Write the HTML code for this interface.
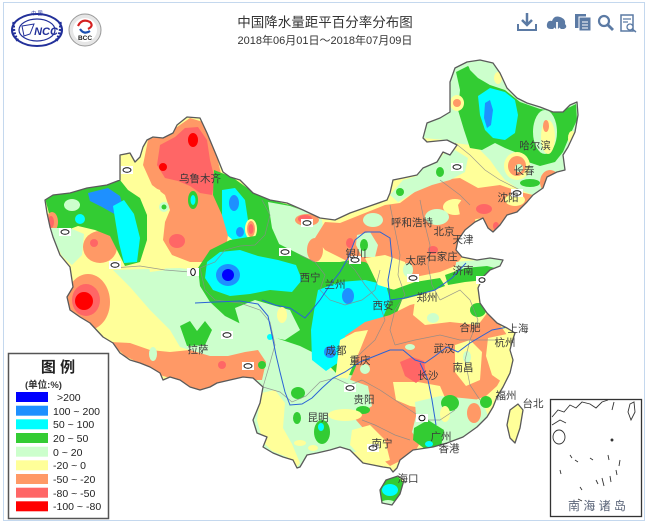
<!DOCTYPE html>
<html><head><meta charset="utf-8">
<style>
html,body{margin:0;padding:0;background:#fff;}
body{width:650px;height:523px;overflow:hidden;}
svg{display:block;}
text{font-family:"Liberation Sans","Noto Sans CJK SC",sans-serif;}
</style></head>
<body>
<svg width="650" height="523" viewBox="0 0 650 523" xmlns="http://www.w3.org/2000/svg">
<defs>
<clipPath id="cn">
<path id="cnp" d="M45,200 L53,195 L70,193 L87,188 L107,185 L120,180 L120,155 L130,153 L135,162 L140,157 L143,147 L147,140 L153,137 L163,138 L173,133 L177,125 L187,117 L200,118 L207,133 L217,157 L223,172 L230,177 L240,180 L253,193 L270,200 L287,203 L303,210 L320,218 L335,220 L350,213 L367,207 L387,200 L390,193 L393,180 L403,178 L417,175 L423,168 L437,162 L443,152 L450,155 L457,145 L447,140 L427,142 L423,138 L427,123 L440,118 L450,112 L450,82 L455,68 L467,62 L480,60 L493,63 L500,73 L507,88 L517,98 L527,103 L540,107 L553,112 L563,112 L570,105 L577,102 L578,115 L575,132 L568,147 L563,155 L565,170 L557,172 L547,177 L543,188 L533,195 L527,202 L517,212 L507,215 L500,225 L493,232 L488,228 L483,218 L475,222 L465,230 L458,240 L456,250 L462,257 L477,260 L490,258 L503,260 L500,266 L490,270 L483,277 L478,288 L480,303 L487,313 L497,323 L507,328 L515,333 L512,342 L510,350 L513,360 L510,373 L503,387 L497,397 L493,407 L487,417 L477,427 L463,437 L447,443 L433,447 L413,450 L400,460 L397,468 L393,472 L390,468 L383,467 L373,465 L363,463 L357,457 L350,450 L340,447 L330,450 L317,453 L307,455 L300,467 L297,468 L293,460 L283,457 L273,453 L263,447 L267,437 L257,433 L253,420 L260,403 L263,387 L253,378 L243,377 L230,380 L217,383 L210,387 L200,390 L190,387 L180,380 L170,377 L163,380 L160,373 L150,367 L140,363 L130,360 L120,353 L113,343 L103,337 L90,323 L80,317 L70,310 L67,297 L73,287 L70,267 L60,255 L53,237 L50,227 L47,213 Z M380,490 L386,480 L398,476 L404,480 L400,494 L392,505 L382,503 Z M510,410 L518,404 L523,410 L520,428 L515,443 L510,438 L507,425 Z"/>
</clipPath>
</defs>

<!-- frame -->
<rect x="3.5" y="2.5" width="641" height="518" fill="none" stroke="#c4d8ee" stroke-width="1"/>

<!-- logos -->
<g>
<ellipse cx="37" cy="30" rx="25" ry="16" fill="#fff" stroke="#22309a" stroke-width="2"/>
<ellipse cx="37" cy="30" rx="18" ry="11" fill="none" stroke="#22309a" stroke-width="1.2"/>
<path d="M14,22 Q12,32 18,41 M60,22 Q62,32 56,41" fill="none" stroke="#22309a" stroke-width="3" stroke-dasharray="2 1.5"/>
<path d="M22,26 L34,24 L30,34 L24,36 Z" fill="none" stroke="#22309a" stroke-width="1"/>
<text x="46" y="35" font-size="11" font-weight="bold" font-style="italic" fill="#22309a" text-anchor="middle">NCC</text>
<text x="37" y="15" font-size="5" fill="#22309a" text-anchor="middle">中   国</text>
<circle cx="85" cy="30" r="16" fill="#e6e6e6" stroke="#999" stroke-width="1"/>
<circle cx="85" cy="30" r="12" fill="#fff"/>
<path d="M78,26 Q82,18 90,22 Q94,26 88,29" fill="none" stroke="#d42020" stroke-width="2.2"/>
<path d="M80,29 Q84,35 90,31" fill="none" stroke="#1a4fb0" stroke-width="2.2"/>
<text x="85" y="40" font-size="6.5" font-weight="bold" fill="#222" text-anchor="middle" font-family="Liberation Serif,serif">BCC</text>
</g>

<!-- title -->
<text x="325" y="27" font-size="13.5" fill="#333" text-anchor="middle">中国降水量距平百分率分布图</text>
<text x="325" y="44" font-size="11" fill="#333" text-anchor="middle">2018年06月01日～2018年07月09日</text>

<!-- icons -->
<g fill="#5b7aa4" stroke="#5b7aa4">
<path d="M527,13 V25 M522,20 L527,25 L532,20" fill="none" stroke-width="2.5"/>
<path d="M518,24 V30 H536 V24" fill="none" stroke-width="2"/>
<path d="M551,29 Q546,29 547,24 Q548,20 552,21 Q554,15 560,17 Q566,19 565,24 Q568,27 564,29 Z" stroke="none"/>
<path d="M557,22 V31 M554,28 L557,32 L560,28" fill="none" stroke="#fff" stroke-width="1.8"/>
<rect x="575" y="14" width="11" height="14" stroke="none"/>
<rect x="579" y="17" width="12" height="14" stroke="#fff" stroke-width="1"/>
<path d="M582,22 H588 M582,25 H588 M582,28 H588" stroke="#fff" stroke-width="1"/>
<circle cx="604" cy="21" r="5" fill="none" stroke-width="2.2"/>
<path d="M608,25 L613,30" stroke-width="2.8"/>
<rect x="621" y="15" width="12" height="16" fill="none" stroke-width="1.5"/>
<path d="M623,19 H631 M623,22 H628" stroke-width="1.2"/>
<circle cx="630" cy="27" r="3" fill="#fff" stroke-width="1.3"/>
<path d="M632,29 L636,32" stroke-width="1.5"/>
</g>

<!-- MAP -->
<g clip-path="url(#cn)">
<rect x="0" y="0" width="650" height="523" fill="#ffff99"/>

<!-- Tibet/SW light green -->
<path fill="#ccffcc" d="M113,270 L180,268 L230,275 L270,285 L300,300 L320,330 L330,370 L360,378 L372,405 L365,452 L330,452 L300,470 L262,448 L252,420 L258,395 L240,380 L205,355 L180,347 L170,330 L150,310 L130,287 Z"/>
<!-- Tibet south orange band -->
<path fill="#ff9966" d="M110,342 L130,343 L150,350 L170,352 L190,350 L210,356 L228,356 L245,352 L258,350 L266,362 L262,380 L243,380 L230,383 L210,388 L200,391 L185,384 L170,378 L160,375 L145,366 L125,356 Z"/>
<ellipse cx="153" cy="354" rx="4" ry="7" fill="#ccffcc"/>
<ellipse cx="222" cy="365" rx="4" ry="4" fill="#ff6666"/>
<path fill="#33cc33" d="M180,326 L190,321 L197,331 L205,321 L212,330 L205,345 L187,346 Z"/>
<!-- Ngari -->
<ellipse cx="88" cy="302" rx="22" ry="28" fill="#ff9966"/>
<ellipse cx="86" cy="300" rx="14" ry="16" fill="#ff6666"/>
<ellipse cx="84" cy="301" rx="9" ry="9" fill="#ff0000"/>

<!-- North Xinjiang orange -->
<path fill="#ff9966" d="M148,140 L165,133 L177,127 L190,118 L203,122 L210,140 L217,157 L222,178 L220,198 L225,215 L228,235 L225,255 L210,262 L190,262 L172,255 L163,240 L165,222 L170,210 L165,195 L152,185 L143,165 Z"/>
<path fill="#ffff99" d="M147,185 L160,190 L165,205 L162,225 L160,250 L165,270 L150,272 L145,250 L145,215 L140,195 Z"/>
<path fill="#ff6666" d="M160,145 L175,137 L185,128 L198,127 L207,140 L210,160 L215,180 L212,195 L200,193 L190,186 L178,181 L165,178 L157,165 Z"/>
<ellipse cx="193" cy="140" rx="5" ry="7" fill="#ff0000"/>
<ellipse cx="163" cy="167" rx="4" ry="4" fill="#ff0000"/>
<ellipse cx="177" cy="241" rx="8" ry="7" fill="#ff6666"/>
<ellipse cx="193" cy="200" rx="5" ry="9" fill="#33cc33"/>
<ellipse cx="193" cy="200" rx="2.5" ry="5" fill="#00ffff"/>
<ellipse cx="164" cy="207" rx="5" ry="5" fill="#ccffcc"/>
<ellipse cx="164" cy="207" rx="2.5" ry="2.5" fill="#33cc33"/>
<ellipse cx="100" cy="247" rx="17" ry="16" fill="#ff9966"/>
<ellipse cx="94" cy="243" rx="4" ry="4" fill="#ff6666"/>

<!-- Ili green -->
<path fill="#33cc33" d="M45,198 L53,195 L70,193 L87,188 L107,185 L120,180 L128,190 L140,198 L147,215 L147,240 L140,262 L125,266 L117,250 L110,236 L95,230 L78,226 L62,232 L52,225 Z"/>
<ellipse cx="72" cy="205" rx="8" ry="6" fill="#ccffcc"/>
<path fill="#1e90ff" d="M88,193 L108,188 L120,196 L124,210 L118,216 L102,207 L90,201 Z"/>
<path fill="#00ffff" d="M113,206 L124,200 L134,214 L140,238 L137,262 L124,263 L119,243 L116,225 Z"/>
<ellipse cx="80" cy="219" rx="5" ry="5" fill="#00ffff"/>
<ellipse cx="52" cy="222" rx="6" ry="10" fill="#ff9966"/>
<ellipse cx="51" cy="222" rx="3" ry="6" fill="#ff6666"/>
<path fill="#ccffcc" d="M48,228 L70,228 L84,234 L82,255 L72,265 L62,256 L54,240 Z"/>

<!-- Tianshan / Hexi green -->
<path fill="#33cc33" d="M214,170 L232,177 L250,190 L270,200 L290,205 L305,212 L300,225 L288,238 L278,248 L262,244 L248,240 L234,228 L222,215 L213,195 Z"/>
<path fill="#00ffff" d="M222,190 L235,188 L245,200 L248,220 L252,240 L240,246 L228,236 L222,215 Z"/>
<ellipse cx="234" cy="203" rx="5" ry="8" fill="#1e90ff"/>
<ellipse cx="240" cy="232" rx="4" ry="5" fill="#1e90ff"/>
<ellipse cx="251" cy="229" rx="6" ry="10" fill="#ffff99"/>
<ellipse cx="251" cy="229" rx="4" ry="8" fill="#ff9966"/>
<ellipse cx="251" cy="229" rx="2.5" ry="5" fill="#ff6666"/>
<path fill="#ccffcc" d="M268,202 L290,206 L310,213 L322,220 L325,245 L312,258 L292,256 L280,246 L272,228 Z"/>
<ellipse cx="307" cy="220" rx="12" ry="6" fill="#ff9966"/>
<ellipse cx="305" cy="219" rx="7" ry="4" fill="#ff6666"/>

<!-- Qinghai/Gansu/Sichuan green -->
<path fill="#33cc33" d="M198,268 L210,250 L230,240 L255,236 L275,242 L295,252 L315,262 L340,262 L362,258 L372,268 L378,285 L395,290 L402,300 L395,318 L385,335 L372,358 L356,376 L336,373 L320,356 L300,346 L270,336 L245,326 L225,316 L210,302 L200,286 Z"/>
<path fill="#ccffcc" d="M235,308 L255,300 L272,305 L290,310 L300,330 L285,340 L260,335 L240,325 Z"/>
<ellipse cx="282" cy="315" rx="5" ry="8" fill="#ffff99"/>
<path fill="#00ffff" d="M207,262 L220,252 L240,250 L258,256 L278,260 L296,265 L302,280 L292,292 L270,290 L250,294 L230,296 L213,290 L205,278 Z"/>
<ellipse cx="228" cy="275" rx="12" ry="11" fill="#1e90ff"/>
<ellipse cx="228" cy="275" rx="6" ry="6" fill="#0000ff"/>
<path fill="#00ffff" d="M318,290 L340,282 L365,280 L386,285 L390,300 L382,320 L362,330 L347,340 L342,360 L326,371 L312,360 L311,330 L315,305 Z"/>
<ellipse cx="348" cy="296" rx="6" ry="8" fill="#1e90ff"/>
<ellipse cx="330" cy="352" rx="6" ry="6" fill="#1e90ff"/>
<ellipse cx="270" cy="337" rx="3" ry="3" fill="#00ffff"/>

<!-- North China orange -->
<path fill="#ff9966" d="M325,222 L340,223 L360,215 L385,205 L400,203 L420,188 L440,180 L460,178 L478,188 L475,222 L465,230 L458,240 L456,250 L462,257 L455,266 L440,272 L420,276 L400,278 L380,270 L365,262 L345,260 L325,250 L315,238 Z"/>
<ellipse cx="315" cy="250" rx="8" ry="12" fill="#ff9966"/>
<path fill="#ffff99" d="M365,258 L385,255 L405,262 L410,285 L395,290 L378,285 Z"/>
<ellipse cx="455" cy="207" rx="12" ry="8" fill="#ffff99"/>
<ellipse cx="373" cy="220" rx="10" ry="7" fill="#ccffcc"/>
<path fill="#ccffcc" d="M357,235 L370,232 L378,245 L375,257 L362,257 L356,245 Z"/>
<ellipse cx="364" cy="245" rx="4" ry="6" fill="#33cc33"/>
<ellipse cx="437" cy="217" rx="12" ry="8" fill="#ccffcc"/>
<ellipse cx="408" cy="270" rx="5" ry="7" fill="#ccffcc"/>
<ellipse cx="433" cy="250" rx="5" ry="4" fill="#ff6666"/>
<ellipse cx="350" cy="243" rx="4" ry="5" fill="#ff6666"/>
<!-- Inner Mongolia light green strip -->
<path fill="#ccffcc" d="M390,195 L403,180 L417,176 L423,168 L437,162 L445,152 L455,150 L468,158 L465,172 L450,180 L432,185 L415,192 L398,202 Z"/>
<ellipse cx="440" cy="172" rx="4" ry="5" fill="#33cc33"/>
<ellipse cx="400" cy="192" rx="4" ry="4" fill="#33cc33"/>

<!-- NE -->
<path fill="#ccffcc" d="M423,138 L427,123 L440,118 L450,112 L450,82 L455,68 L467,62 L480,60 L493,63 L500,73 L507,88 L517,98 L527,103 L540,107 L553,112 L563,112 L570,105 L577,102 L578,115 L575,132 L568,147 L563,155 L565,170 L557,172 L547,177 L543,188 L533,195 L520,190 L505,180 L497,170 L490,160 L480,150 L470,145 L455,143 L445,140 Z"/>
<path fill="#33cc33" d="M456,72 L468,66 L478,75 L490,85 L505,90 L520,102 L540,109 L560,112 L576,104 L577,120 L570,135 L563,152 L555,162 L540,166 L528,162 L515,152 L505,148 L495,143 L482,150 L470,148 L464,130 L458,110 L460,90 Z"/>
<path fill="#ccffcc" d="M467,62 L480,60 L493,63 L500,73 L502,85 L490,85 L478,78 L470,70 Z"/>
<path fill="#00ffff" d="M478,96 L490,88 L505,92 L515,100 L518,115 L515,133 L505,140 L493,138 L485,130 L480,115 Z"/>
<path fill="#1e90ff" d="M485,103 L490,100 L493,110 L491,125 L487,128 L484,118 Z"/>
<ellipse cx="545" cy="132" rx="12" ry="22" fill="#ccffcc"/>
<ellipse cx="548" cy="137" rx="7" ry="17" fill="#ffff99"/>
<ellipse cx="546" cy="126" rx="3" ry="6" fill="#ff9966"/>
<ellipse cx="572" cy="138" rx="4" ry="7" fill="#ffff99"/>
<ellipse cx="457" cy="103" rx="7" ry="8" fill="#ffff99"/>
<ellipse cx="457" cy="103" rx="4" ry="4" fill="#ff9966"/>
<ellipse cx="498" cy="78" rx="4" ry="6" fill="#ffff99"/>
<ellipse cx="517" cy="166" rx="13" ry="14" fill="#ffff99"/>
<ellipse cx="517" cy="166" rx="9" ry="10" fill="#ff9966"/>
<ellipse cx="519" cy="168" rx="4" ry="4" fill="#ccffcc"/>
<ellipse cx="530" cy="183" rx="10" ry="4" fill="#33cc33"/>
<ellipse cx="550" cy="182" rx="10" ry="12" fill="#ff9966"/>
<path fill="#ff9966" d="M478,188 L500,185 L520,192 L533,195 L527,202 L517,212 L507,215 L500,225 L493,232 L488,228 L483,218 L470,220 L460,215 L458,205 L465,195 Z"/>
<ellipse cx="484" cy="209" rx="8" ry="5" fill="#ff6666"/>
<ellipse cx="515" cy="200" rx="10" ry="6" fill="#ffff99"/>
<ellipse cx="496" cy="226" rx="3" ry="4" fill="#ff6666"/>

<!-- Shandong -->
<path fill="#ccffcc" d="M456,262 L477,260 L490,258 L503,260 L500,266 L490,270 L483,277 L470,278 L455,275 Z"/>
<path fill="#33cc33" d="M445,275 L465,268 L487,266 L495,268 L485,280 L465,282 L448,285 Z"/>
<path fill="#33cc33" d="M393,290 L415,282 L440,278 L445,286 L420,295 L400,300 Z"/>

<!-- Central/South orange -->
<path fill="#ff9966" d="M345,336 L365,322 L390,315 L410,305 L430,300 L452,300 L472,304 L490,310 L500,325 L507,335 L510,350 L506,370 L497,386 L486,396 L470,402 L455,410 L440,422 L426,432 L416,450 L402,460 L390,466 L378,455 L370,436 L356,420 L346,402 L350,380 L356,366 Z"/>
<path fill="#ffff99" d="M340,340 L355,332 L368,330 L360,350 L352,368 L345,385 L335,380 Z"/>
<path fill="#ffff99" d="M415,300 L450,298 L478,302 L488,312 L478,325 L450,322 L425,325 L413,315 Z"/>
<ellipse cx="478" cy="310" rx="8" ry="7" fill="#33cc33"/>
<ellipse cx="433" cy="318" rx="6" ry="5" fill="#ccffcc"/>
<path fill="#ffff99" d="M393,382 L418,382 L440,386 L446,400 L432,410 L410,406 L396,400 Z"/>
<path fill="#ffff99" d="M488,338 L507,334 L512,345 L510,366 L502,382 L492,375 L486,356 Z"/>
<path fill="#ffff99" d="M455,345 L470,340 L482,352 L480,380 L466,386 L455,372 Z"/>
<ellipse cx="467" cy="357" rx="4" ry="6" fill="#ccffcc"/>
<path fill="#ff6666" d="M400,362 L412,357 L424,361 L426,375 L416,383 L405,376 Z"/>
<ellipse cx="410" cy="347" rx="5" ry="3" fill="#ccffcc"/>
<ellipse cx="365" cy="369" rx="5" ry="5" fill="#ccffcc"/>
<path fill="#ccffcc" d="M415,402 L440,396 L462,398 L482,400 L488,416 L478,427 L463,437 L447,443 L433,447 L420,446 L412,432 L416,416 Z"/>
<ellipse cx="450" cy="403" rx="9" ry="8" fill="#33cc33"/>
<path fill="#33cc33" d="M414,428 L428,420 L444,430 L441,447 L425,449 L413,440 Z"/>
<ellipse cx="429" cy="444" rx="4" ry="3" fill="#00ffff"/>
<ellipse cx="445" cy="414" rx="5" ry="8" fill="#ffff99"/>
<ellipse cx="474" cy="413" rx="7" ry="10" fill="#ff9966"/>
<ellipse cx="486" cy="402" rx="6" ry="6" fill="#33cc33"/>
<path fill="#ffff99" d="M352,430 L370,425 L385,440 L390,460 L378,464 L360,456 L350,445 Z"/>
<!-- Guizhou / Yunnan -->
<path fill="#ccffcc" d="M318,376 L345,378 L368,386 L372,406 L360,414 L340,410 L325,406 L314,396 Z"/>
<ellipse cx="363" cy="410" rx="7" ry="4" fill="#33cc33"/>
<path fill="#ffff99" d="M261,393 L275,390 L285,403 L283,428 L292,444 L300,463 L296,468 L287,457 L272,451 L263,442 L257,420 Z"/>
<ellipse cx="345" cy="415" rx="17" ry="6" fill="#ffff99"/>
<ellipse cx="322" cy="432" rx="8" ry="12" fill="#33cc33"/>
<ellipse cx="321" cy="427" rx="3" ry="4" fill="#00ffff"/>
<ellipse cx="300" cy="443" rx="6" ry="3" fill="#ffff99"/>
<ellipse cx="313" cy="448" rx="5" ry="3" fill="#ffff99"/>
<ellipse cx="297" cy="418" rx="4" ry="6" fill="#33cc33"/>
<ellipse cx="298" cy="393" rx="7" ry="6" fill="#33cc33"/>
<ellipse cx="262" cy="365" rx="4" ry="4" fill="#33cc33"/>
<!-- Hainan -->
<ellipse cx="391" cy="491" rx="14" ry="16" fill="#33cc33"/>
<ellipse cx="390" cy="490" rx="8" ry="6" fill="#00ffff"/>
<ellipse cx="388" cy="503" rx="7" ry="3" fill="#ccffcc"/>
<!-- Taiwan -->
<rect x="500" y="400" width="30" height="50" fill="#ffff99"/>

<!-- province borders -->
<g fill="none" stroke="#8a8a8a" stroke-width="0.7" opacity="0.85">
<path d="M113,268 L140,266 L165,270 L190,272 L200,268 L215,262 L225,250 L240,246 L255,245 L265,235 L270,215 L262,200"/>
<path d="M200,268 L205,290 L215,300 L240,303 L260,310 L270,322 L275,345 L268,370 L263,387"/>
<path d="M263,387 L280,392 L292,402 L306,396 L320,382 L335,378 L350,385 L362,380"/>
<path d="M300,255 L315,262 L325,275 L320,290 L330,300 L345,305 L362,300 L375,290 L380,270"/>
<path d="M345,260 L355,270 L365,285 L378,300 L385,320 L375,340 L362,352 L350,365"/>
<path d="M390,205 L395,230 L400,255 L398,275 L405,295 L395,310 L390,330 L395,345"/>
<path d="M420,200 L425,225 L430,245 L428,265 L432,285 L440,300"/>
<path d="M440,300 L460,290 L470,300 L478,320 L470,340 L465,360 L470,385 L480,400"/>
<path d="M395,345 L415,340 L440,335 L460,340 L482,340 L498,340"/>
<path d="M362,380 L380,390 L395,400 L410,410 L425,420 L440,420 L455,410"/>
<path d="M362,420 L375,425 L395,435 L410,440"/>
<path d="M455,143 L470,155 L485,170 L500,180 L520,190"/>
<path d="M440,180 L460,195 L470,205"/>
</g>
<!-- rivers -->
<g fill="none" stroke="#2a62d6" stroke-width="1">
<path d="M195,303 L215,302 L240,301 L258,304 L268,316 L272,335 L276,355 L280,372 L285,392 L290,405 L302,404 L312,398 L322,388 L333,378 L345,372 L360,362 L375,356 L390,350 L403,350 L415,360 L425,363 L435,356 L447,347 L458,352 L470,343 L480,337 L492,330 L508,327"/>
<path d="M262,300 L275,305 L290,308 L305,318 L312,310 L320,300 L330,285 L340,272 L348,258 L355,240 L365,232 L380,232 L390,238 L392,258 L388,280 L390,300 L405,298 L420,294 L435,290 L452,278 L466,263"/>
<path d="M420,363 L428,380 L432,400 L436,425"/>
</g>
</g>
<!-- Hainan/Taiwan + China outline -->
<path d="M45,200 L53,195 L70,193 L87,188 L107,185 L120,180 L120,155 L130,153 L135,162 L140,157 L143,147 L147,140 L153,137 L163,138 L173,133 L177,125 L187,117 L200,118 L207,133 L217,157 L223,172 L230,177 L240,180 L253,193 L270,200 L287,203 L303,210 L320,218 L335,220 L350,213 L367,207 L387,200 L390,193 L393,180 L403,178 L417,175 L423,168 L437,162 L443,152 L450,155 L457,145 L447,140 L427,142 L423,138 L427,123 L440,118 L450,112 L450,82 L455,68 L467,62 L480,60 L493,63 L500,73 L507,88 L517,98 L527,103 L540,107 L553,112 L563,112 L570,105 L577,102 L578,115 L575,132 L568,147 L563,155 L565,170 L557,172 L547,177 L543,188 L533,195 L527,202 L517,212 L507,215 L500,225 L493,232 L488,228 L483,218 L475,222 L465,230 L458,240 L456,250 L462,257 L477,260 L490,258 L503,260 L500,266 L490,270 L483,277 L478,288 L480,303 L487,313 L497,323 L507,328 L515,333 L512,342 L510,350 L513,360 L510,373 L503,387 L497,397 L493,407 L487,417 L477,427 L463,437 L447,443 L433,447 L413,450 L400,460 L397,468 L393,472 L390,468 L383,467 L373,465 L363,463 L357,457 L350,450 L340,447 L330,450 L317,453 L307,455 L300,467 L297,468 L293,460 L283,457 L273,453 L263,447 L267,437 L257,433 L253,420 L260,403 L263,387 L253,378 L243,377 L230,380 L217,383 L210,387 L200,390 L190,387 L180,380 L170,377 L163,380 L160,373 L150,367 L140,363 L130,360 L120,353 L113,343 L103,337 L90,323 L80,317 L70,310 L67,297 L73,287 L70,267 L60,255 L53,237 L50,227 L47,213 Z M380,490 L386,480 L398,476 L404,480 L400,494 L392,505 L382,503 Z M510,410 L518,404 L523,410 L520,428 L515,443 L510,438 L507,425 Z" fill="none" stroke="#5a5a5a" stroke-width="1.3" stroke-linejoin="round"/>

<!-- zero labels -->
<g>
<g fill="#fff" stroke="none">
<rect x="121" y="166" width="12" height="8"/><rect x="59" y="228" width="12" height="8"/>
<rect x="109" y="261" width="12" height="8"/><rect x="187" y="268" width="12" height="8"/>
<rect x="279" y="248" width="12" height="8"/><rect x="301" y="219" width="12" height="8"/>
<rect x="221" y="331" width="12" height="8"/><rect x="242" y="362" width="12" height="8"/>
<rect x="451" y="163" width="12" height="8"/><rect x="349" y="256" width="12" height="8"/>
<rect x="407" y="274" width="12" height="8"/><rect x="476" y="276" width="12" height="8"/>
<rect x="511" y="189" width="12" height="8"/><rect x="344" y="384" width="12" height="8"/>
<rect x="416" y="414" width="12" height="8"/><rect x="367" y="444" width="12" height="8"/>
</g>
<g fill="none" stroke="#111" stroke-width="1">
<ellipse cx="127" cy="170" rx="4" ry="2.3"/><ellipse cx="65" cy="232" rx="4" ry="2.3"/>
<ellipse cx="115" cy="265" rx="4" ry="2.3"/><ellipse cx="193" cy="272" rx="2.3" ry="3.5"/>
<ellipse cx="285" cy="252" rx="4" ry="2.3"/><ellipse cx="307" cy="223" rx="4" ry="2.3"/>
<ellipse cx="227" cy="335" rx="4" ry="2.3"/><ellipse cx="248" cy="366" rx="4" ry="2.3"/>
<ellipse cx="457" cy="167" rx="4" ry="2.3"/><ellipse cx="355" cy="260" rx="4" ry="2.3"/>
<ellipse cx="413" cy="278" rx="4" ry="2.3"/><ellipse cx="482" cy="280" rx="3" ry="2.3"/>
<ellipse cx="517" cy="193" rx="4" ry="2.3"/><ellipse cx="350" cy="388" rx="4" ry="2.3"/>
<ellipse cx="422" cy="418" rx="3" ry="2.8"/><ellipse cx="373" cy="448" rx="4" ry="2.3"/>
</g>
</g>

<!-- city labels -->
<g font-size="10.5" fill="#3a3a3a" text-anchor="middle">
<text x="200" y="182">乌鲁木齐</text>
<text x="310" y="281">西宁</text>
<text x="335" y="288">兰州</text>
<text x="356" y="257">银川</text>
<text x="412" y="226">呼和浩特</text>
<text x="444" y="235">北京</text>
<text x="463" y="243">天津</text>
<text x="442" y="260">石家庄</text>
<text x="416" y="264">太原</text>
<text x="463" y="274">济南</text>
<text x="427" y="301">郑州</text>
<text x="383" y="309">西安</text>
<text x="336" y="354">成都</text>
<text x="360" y="364">重庆</text>
<text x="444" y="352">武汉</text>
<text x="470" y="331">合肥</text>
<text x="518" y="332">上海</text>
<text x="505" y="346">杭州</text>
<text x="428" y="379">长沙</text>
<text x="463" y="371">南昌</text>
<text x="506" y="399">福州</text>
<text x="533" y="407">台北</text>
<text x="364" y="403">贵阳</text>
<text x="318" y="421">昆明</text>
<text x="382" y="447">南宁</text>
<text x="441" y="440">广州</text>
<text x="449" y="452">香港</text>
<text x="408" y="482">海口</text>
<text x="198" y="353">拉萨</text>
<text x="535" y="149">哈尔滨</text>
<text x="524" y="174">长春</text>
<text x="508" y="201">沈阳</text>
</g>

<!-- legend -->
<rect x="8.5" y="353.5" width="100" height="165" fill="#fff" stroke="#555" stroke-width="1.5"/>
<text x="58" y="372" font-size="15" font-weight="bold" fill="#222" text-anchor="middle">图  例</text>
<text x="25" y="388" font-size="9.5" font-weight="bold" fill="#333">(单位:%)</text>
<g>
<rect x="16" y="392" width="32" height="10" fill="#0000ff"/>
<rect x="16" y="405.7" width="32" height="10" fill="#1e90ff"/>
<rect x="16" y="419.3" width="32" height="10" fill="#00ffff"/>
<rect x="16" y="433" width="32" height="10" fill="#33cc33"/>
<rect x="16" y="446.7" width="32" height="10" fill="#ccffcc"/>
<rect x="16" y="460.3" width="32" height="10" fill="#ffff99"/>
<rect x="16" y="474" width="32" height="10" fill="#ff9966"/>
<rect x="16" y="487.7" width="32" height="10" fill="#ff6666"/>
<rect x="16" y="501.3" width="32" height="10" fill="#ff0000"/>
</g>
<g font-size="10.5" fill="#222">
<text x="57" y="401">&gt;200</text>
<text x="53" y="415">100 ~ 200</text>
<text x="53" y="428">50 ~ 100</text>
<text x="53" y="442">20 ~ 50</text>
<text x="53" y="456">0 ~ 20</text>
<text x="53" y="469">-20 ~ 0</text>
<text x="53" y="483">-50 ~ -20</text>
<text x="53" y="497">-80 ~ -50</text>
<text x="53" y="510">-100 ~ -80</text>
</g>

<!-- South China Sea inset -->
<rect x="550.5" y="399.5" width="91" height="117" fill="#fff" stroke="#333" stroke-width="1.3"/>
<g fill="none" stroke="#333" stroke-width="0.9">
<path d="M552,417 L558,410 L564,412 L570,405 L576,408 L582,402 L590,404 L596,408 L602,402 L608,400"/>
<path d="M552,425 L560,420 L566,423"/>
<ellipse cx="559" cy="437" rx="6" ry="7"/>
<path d="M630,404 L634,402 L635,412 L631,420 L628,412 Z"/>
<path d="M614,402 L612,410"/>
<path d="M570,455 L572,458 M575,460 L578,462 M590,458 L593,460 M608,455 L609,460 M596,480 L598,484 M602,478 L604,486 M610,476 L611,482 M616,470 L617,475 M620,460 L619,466 M580,487 L582,490 M560,470 L561,474 M578,499 L582,501"/>
<circle cx="612" cy="440" r="1" fill="#333"/>
</g>
<text x="597" y="510" font-size="12" fill="#5a6478" text-anchor="middle">南 海 诸 岛</text>
</svg>
</body></html>
